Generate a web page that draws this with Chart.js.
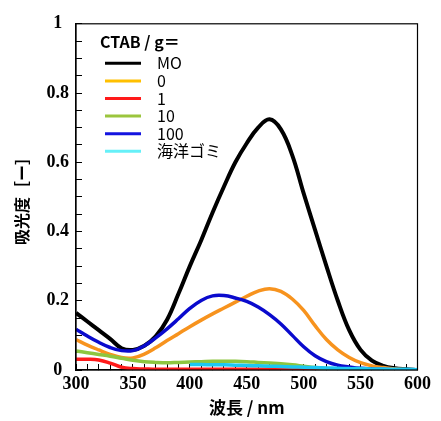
<!DOCTYPE html>
<html>
<head>
<meta charset="utf-8">
<script src="https://cdn.jsdelivr.net/npm/chart.js@4.4.1/dist/chart.umd.min.js"></script>
<style>
  html, body { margin: 0; padding: 0; background: #fff; }
</style>
</head>
<body>
<canvas id="absChart" width="441" height="421"></canvas>
<script>
// wavelength grid (nm)
const wavelengths = [300, 310, 320, 330, 340, 350, 360, 370, 380, 390,
                     400, 410, 420, 430, 440, 450, 460, 470, 480, 490,
                     500, 510, 520, 530, 540, 550, 560, 570, 580, 590, 600];

const seriesNames = ['MO', '0', '1', '10', '100', '海洋ゴミ'];
const legendTitle = 'CTAB / g＝';

// absorbance readings, one value per wavelength
const absMO = [0.165, 0.14, 0.115, 0.09, 0.063, 0.058, 0.07, 0.097, 0.145, 0.22,
               0.30, 0.375, 0.455, 0.53, 0.60, 0.655, 0.70, 0.724, 0.695, 0.62,
               0.51, 0.405, 0.30, 0.20, 0.115, 0.058, 0.027, 0.012, 0.005, 0.002, 0.0];
const absCtab0 = [0.088, 0.072, 0.058, 0.045, 0.036, 0.035, 0.046, 0.064, 0.085, 0.105,
                  0.125, 0.144, 0.162, 0.179, 0.196, 0.213, 0.228, 0.235, 0.227, 0.205,
                  0.172, 0.128, 0.088, 0.058, 0.036, 0.021, 0.012, 0.007, 0.003, 0.001, 0.0];
const absCtab1 = [0.031, 0.031, 0.029, 0.02, 0.008, 0.004, 0.003, 0.002, 0.002, 0.002,
                  0.002, 0.002, 0.002, 0.002, 0.002, 0.002, 0.002, 0.002, 0.002, 0.002,
                  0.002, 0.002, 0.002, 0.001, 0.001, 0.001, 0.001, 0.001, 0.001, 0.001, 0.001];
const absCtab10 = [0.055, 0.05, 0.045, 0.04, 0.034, 0.028, 0.024, 0.022, 0.021, 0.022,
                   0.023, 0.024, 0.025, 0.025, 0.025, 0.024, 0.022, 0.02, 0.018, 0.015,
                   0.011, 0.007, 0.004, 0.002, 0.001, 0.001, 0.0, 0.0, 0.0, 0.0, 0.0];
const absCtab100 = [0.118, 0.098, 0.08, 0.065, 0.056, 0.056, 0.07, 0.093, 0.119, 0.148,
                    0.178, 0.201, 0.214, 0.215, 0.208, 0.198, 0.182, 0.16, 0.133, 0.10,
                    0.067, 0.041, 0.024, 0.014, 0.009, 0.005, 0.003, 0.002, 0.001, 0.001, 0.0];
const absDebris = [null, null, null, null, null, null, null, null, null, null,
                   0.016, 0.016, 0.015, 0.015, 0.014, 0.013, 0.012, 0.011, 0.010, 0.009,
                   0.008, 0.007, 0.006, 0.005, 0.004, 0.004, 0.003, 0.003, 0.002, 0.002, 0.001];

const allSeries = [absMO, absCtab0, absCtab1, absCtab10, absCtab100, absDebris];
const lineColors = ['#000000', '#F7931E', '#FF1A1A', '#8DC63F', '#0A0ACD', '#1CC7F2'];
const legendColors = ['#000000', '#FFC000', '#FF1A1A', '#9BC53D', '#1414E0', '#66F0F8'];
const lineWidths = [4, 3.5, 3.5, 3.5, 3.5, 3.5];

const tickFont = { family: '"Liberation Serif", "Times New Roman", serif', weight: 'bold', size: 18 };
const titleFont = { family: '"Noto Sans CJK JP", "Noto Sans", sans-serif', weight: 'bold', size: 16 };

// box around the plot area
const framePlugin = {
  id: 'frame',
  afterDatasetsDraw(chart) {
    const { ctx, chartArea: a } = chart;
    ctx.save();
    ctx.strokeStyle = '#000';
    ctx.lineWidth = 1.2;
    ctx.strokeRect(a.left, a.top, a.right - a.left, a.bottom - a.top);
    ctx.restore();
  }
};

// legend inside the plot, top left
const insideLegend = {
  id: 'insideLegend',
  afterDraw(chart, args, opts) {
    const { ctx, chartArea: a } = chart;
    const x0 = a.left + 24;
    ctx.save();
    ctx.fillStyle = '#000';
    ctx.textBaseline = 'middle';
    ctx.textAlign = 'left';
    ctx.font = 'bold 16px "Noto Sans CJK JP", sans-serif';
    ctx.fillText(opts.title, x0, a.top + 18);
    ctx.font = '16px "Noto Sans CJK JP", sans-serif';
    chart.data.datasets.forEach((ds, i) => {
      const y = a.top + 39.5 + i * 17.6;
      ctx.strokeStyle = opts.colors[i];
      ctx.lineWidth = 3;
      ctx.beginPath();
      ctx.moveTo(x0 + 5, y);
      ctx.lineTo(x0 + 41, y);
      ctx.stroke();
      ctx.fillText(ds.label, x0 + 57, y);
    });
    ctx.restore();
  }
};

const datasets = allSeries.map((vals, i) => ({
  label: seriesNames[i],
  data: wavelengths.map((w, j) => ({ x: w, y: vals[j] })),
  borderColor: lineColors[i],
  borderWidth: lineWidths[i],
  pointRadius: 0,
  tension: 0.4,
  fill: false,
  order: -i
}));

const ctx = document.getElementById('absChart').getContext('2d');
new Chart(ctx, {
  type: 'line',
  data: { datasets },
  options: {
    responsive: false,
    devicePixelRatio: 1,
    animation: false,
    layout: { padding: { top: 21, right: 14, left: 0, bottom: 0 } },
    plugins: {
      legend: { display: false },
      tooltip: { enabled: false },
      insideLegend: { title: legendTitle, colors: legendColors }
    },
    scales: {
      x: {
        type: 'linear',
        min: 300,
        max: 600,
        afterFit: s => { s.height = 51; },
        border: { display: true, color: '#000', width: 1.2 },
        grid: { drawOnChartArea: false, drawTicks: true, tickLength: -6, color: '#000', tickColor: '#000' },
        ticks: {
          stepSize: 10,
          autoSkip: false,
          maxRotation: 0,
          padding: 10,
          color: '#000',
          font: tickFont,
          callback: v => (v % 50 === 0 ? String(v) : '')
        },
        title: { display: true, text: '波長 / nm', color: '#000', font: { ...titleFont, size: 17 }, padding: { top: 0, bottom: 3 } }
      },
      y: {
        min: 0,
        max: 1,
        afterFit: s => { s.width = 76; },
        border: { display: true, color: '#000', width: 1.2 },
        grid: { drawOnChartArea: false, drawTicks: true, tickLength: -6, color: '#000', tickColor: '#000' },
        ticks: {
          stepSize: 0.05,
          autoSkip: false,
          crossAlign: 'center',
          padding: 13,
          color: '#000',
          font: tickFont,
          callback: v => {
            if (Math.abs(v * 5 - Math.round(v * 5)) > 1e-6) return '';
            return (v === 0 || v === 1) ? String(v) : v.toFixed(1);
          }
        },
        title: { display: true, text: '吸光度［ー］', color: '#000', font: titleFont, padding: { top: 12, bottom: 0 } }
      }
    }
  },
  plugins: [framePlugin, insideLegend]
});
</script>
</body>
</html>
